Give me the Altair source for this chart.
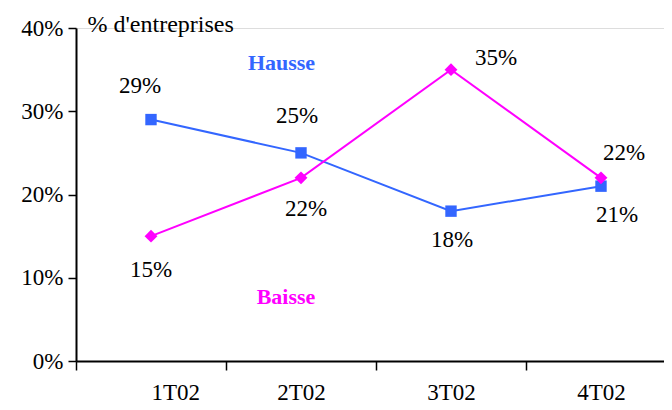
import altair as alt
import pandas as pd

categories = ["1T02", "2T02", "3T02", "4T02"]
hausse = [29, 25, 18, 21]
baisse = [15, 22, 35, 22]

rows = []
for i, c in enumerate(categories):
    rows.append({"i": i, "cat": c, "serie": "Hausse", "v": hausse[i]})
    rows.append({"i": i, "cat": c, "serie": "Baisse", "v": baisse[i]})
df = pd.DataFrame(rows)

FONT = "Liberation Serif, Times New Roman, Times, serif"
BLUE = "#3366FF"
MAG = "#FF00FF"
W = 588
H = 333
band = 150.0
xmax = -0.5 + W / band
FS = 23

lab_expr = "[" + ",".join("'%s'" % c for c in categories) + "][round(datum.value + 0.5)]"

x = alt.X("i:Q", scale=alt.Scale(domain=[-0.5, xmax], nice=False, zero=False),
          axis=alt.Axis(values=[-0.5, 0.5, 1.5, 2.5], labelExpr=lab_expr, labelOffset=band / 2,
                        title=None, grid=False, tickSize=9, tickWidth=1.5, tickColor="black",
                        domainColor="black", domainWidth=2, labelFont=FONT, labelFontSize=FS,
                        labelColor="black", labelPadding=11))
y = alt.Y("v:Q", scale=alt.Scale(domain=[0, 40], nice=False),
          axis=alt.Axis(values=[0, 10, 20, 30, 40], labelExpr="datum.value + '%'",
                        title="% d'entreprises", titleAngle=0, titleAlign="left",
                        titleBaseline="middle", titleX=11, titleY=-4, titleFont=FONT,
                        titleFontSize=24, titleFontWeight="normal", titleColor="black",
                        grid=False, tickSize=8, tickWidth=1.5, tickColor="black",
                        domainColor="black", domainWidth=2, labelFont=FONT, labelFontSize=FS,
                        labelColor="black", labelPadding=5))

color = alt.Color("serie:N", scale=alt.Scale(domain=["Hausse", "Baisse"], range=[BLUE, MAG]), legend=None)

base = alt.Chart(df).encode(x=x, y=y)

lines = base.mark_line(strokeWidth=2).encode(color=color, detail="serie:N")
pts_h = base.transform_filter("datum.serie == 'Hausse'").mark_point(
    shape="square", filled=True, size=130, color=BLUE, opacity=1)
pts_b = base.transform_filter("datum.serie == 'Baisse'").mark_point(
    shape="diamond", filled=True, size=165, color=MAG, opacity=1)

offsets = {
    ("Hausse", 0): (-11, -34), ("Hausse", 1): (-4, -37), ("Hausse", 2): (1, 29), ("Hausse", 3): (16, 29),
    ("Baisse", 0): (0, 34), ("Baisse", 1): (5, 31), ("Baisse", 2): (45, -12), ("Baisse", 3): (23, -25),
}
texts = []
for (s, i), (dx, dy) in offsets.items():
    texts.append(
        base.transform_filter(f"datum.serie == '{s}' && datum.i == {i}")
        .transform_calculate(lbl="datum.v + '%'")
        .mark_text(font=FONT, fontSize=FS, color="black", dx=dx, dy=dy, baseline="middle", align="center")
        .encode(text="lbl:N")
    )

ann = pd.DataFrame({"i": [0.87, 0.9], "v": [35.8, 7.7], "t": ["Hausse", "Baisse"], "serie": ["Hausse", "Baisse"]})
ann_txt = alt.Chart(ann).mark_text(font=FONT, fontSize=22, fontWeight="bold", baseline="middle").encode(
    x=alt.X("i:Q"), y=alt.Y("v:Q"), text="t:N", color=color)

chart = alt.layer(lines, pts_h, pts_b, *texts, ann_txt).properties(
    width=W, height=H, autosize=alt.AutoSizeParams(type="none"),
    padding={"left": 68, "top": 20, "right": 0, "bottom": 41},
).configure_view(stroke=None).configure(background="white")

chart.save("out.html", embed_options={"renderer": "svg", "actions": False})
